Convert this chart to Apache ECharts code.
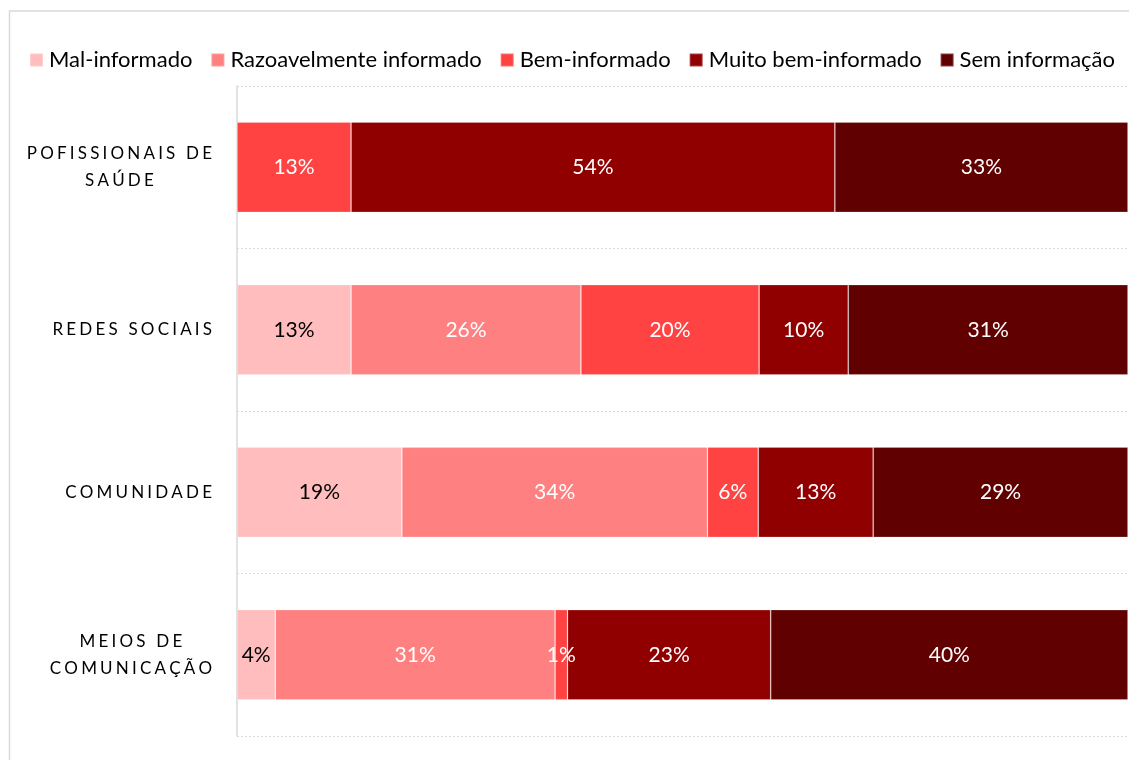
<!DOCTYPE html>
<html>
<head>
<meta charset="utf-8">
<script src="https://cdn.jsdelivr.net/npm/echarts@6/dist/echarts.min.js"></script>
<style>html,body{margin:0;padding:0;background:#fff}#c{width:1129px;height:760px}</style>
</head>
<body>
<div id="c"></div>
<script>
const categories = ['POFISSIONAIS DE\nSAÚDE', 'REDES SOCIAIS', 'COMUNIDADE', 'MEIOS DE\nCOMUNICAÇÃO'];
const seriesNames = ['Mal-informado', 'Razoavelmente informado', 'Bem-informado', 'Muito bem-informado', 'Sem informação'];
const malInformado = [0, 12.8, 18.5, 4.3];
const razoavelmente = [0, 25.8, 34.3, 31.4];
const bemInformado = [12.8, 20.0, 5.7, 1.4];
const muitoBem = [54.3, 10.0, 12.9, 22.8];
const semInformacao = [32.9, 31.4, 28.6, 40.1];
const colors = ['#FFBDBD', '#FF8080', '#FF4343', '#900000', '#600000'];
const labelColors = ['#000000', '#ffffff', '#ffffff', '#ffffff', '#ffffff'];

const FONT = 'Lato';
const spaced = s => s.split('\n').map(line => '{a|' + line.split('').join('\u2009\u200A') + '}').join('\n');

const allData = [malInformado, razoavelmente, bemInformado, muitoBem, semInformacao];
const chart = echarts.init(document.getElementById('c'), null, {renderer: 'canvas'});
chart.setOption({
  animation: false,
  backgroundColor: '#fff',
  graphic: [{
    type: 'rect', shape: {x: 9.5, y: 11, width: 1300, height: 900},
    style: {fill: 'none', stroke: '#d9d9d9', lineWidth: 1.5}, z: -1
  }],
  legend: {
    left: 24, top: 44,
    itemWidth: 13, itemHeight: 13, itemGap: 18,
    icon: 'rect',
    textStyle: {fontFamily: FONT, fontSize: 22, color: '#000', padding: [0, 0, 0, 1]},
    data: seriesNames
  },
  grid: {left: 237, right: 1, top: 86, bottom: 24},
  xAxis: {
    type: 'value', min: 0, max: 100,
    axisLabel: {show: false}, axisLine: {show: false}, axisTick: {show: false}, splitLine: {show: false}
  },
  yAxis: {
    type: 'category', inverse: true, data: categories,
    axisLine: {show: true, lineStyle: {color: '#d9d9d9', width: 1.5}},
    axisTick: {show: false},
    splitLine: {show: true, lineStyle: {color: '#d9d9d9', type: [2, 2], width: 1}},
    axisLabel: {
      margin: 25, align: 'right',
      formatter: v => spaced(v),
      rich: {a: {fontFamily: FONT, fontSize: 17, color: '#000', align: 'center', lineHeight: 27}}
    }
  },
  series: allData.map((d, i) => ({
    name: seriesNames[i], type: 'bar', stack: 'total', barWidth: '55.5%',
    data: d,
    itemStyle: {color: colors[i], borderColor: 'rgba(255,255,255,0.25)', borderWidth: 0.8},
    label: {
      show: true, position: 'inside',
      fontFamily: FONT, fontSize: 21, color: labelColors[i],
      formatter: p => p.value > 0 ? Math.round(p.value) + '%' : ''
    }
  }))
});
</script>
</body>
</html>
